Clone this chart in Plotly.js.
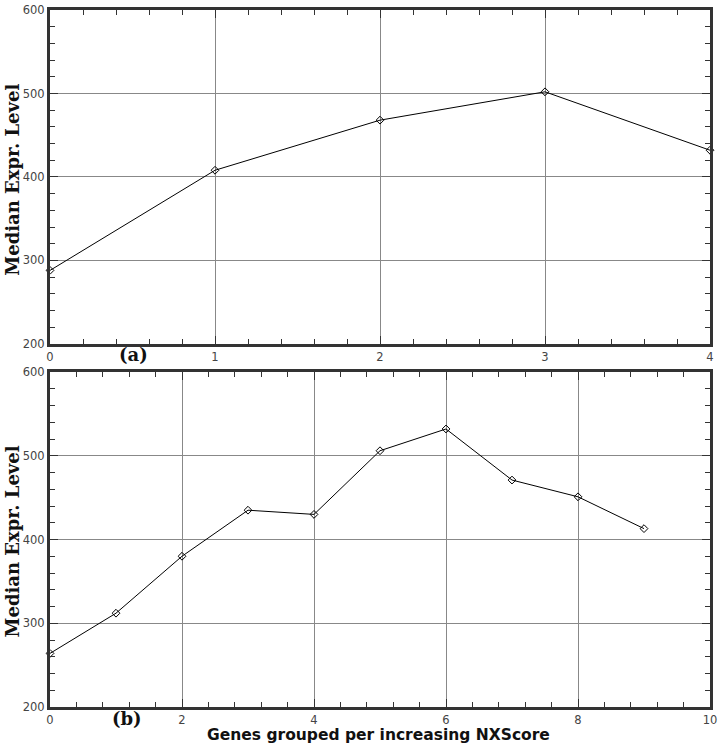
<!DOCTYPE html>
<html>
<head>
<meta charset="utf-8">
<script src="https://cdn.plot.ly/plotly-3.0.1.min.js"></script>
<style>
  html, body { margin: 0; padding: 0; background: #ffffff; }
  #chart { width: 719px; height: 743px; }
</style>
</head>
<body>
<div id="chart"></div>
<script>
// Panel (a): median expression per group
const groupsA = [0, 1, 2, 3, 4];
const medianA = [288, 408, 468, 502, 432];

// Panel (b): median expression per group
const groupsB = [0, 1, 2, 3, 4, 5, 6, 7, 8, 9];
const medianB = [264, 312, 380, 435, 430, 506, 532, 471, 451, 413];

const yTitle = 'Median Expr. Level';
const xTitle = 'Genes grouped per increasing NXScore';
const panelLabels = ['(a)', '(b)'];

const frameColor = '#333333';
const tickFont = { family: 'DejaVu Sans, Verdana, sans-serif', size: 11.5, color: '#444444' };

function makeTrace(x, y, xa, ya) {
    return {
        x: x,
        y: y,
        xaxis: xa,
        yaxis: ya,
        type: 'scatter',
        mode: 'lines+markers',
        line: { color: '#000000', width: 1 },
        marker: { symbol: 'diamond-open', size: 6, color: '#000000', line: { width: 1 } },
        cliponaxis: false,
        showlegend: false
    };
}

function axisBase(range, dtick, minorDtick, domain, anchor) {
    return {
        range: range,
        domain: domain,
        anchor: anchor,
        dtick: dtick,
        tick0: range[0],
        ticks: 'inside',
        ticklen: 8,
        tickwidth: 1,
        tickcolor: frameColor,
        minor: { dtick: minorDtick, ticks: 'inside', ticklen: 5, tickcolor: frameColor, showgrid: false },
        showline: true,
        linecolor: frameColor,
        linewidth: 3,
        mirror: 'ticks',
        showgrid: true,
        gridcolor: '#888888',
        gridwidth: 1,
        zeroline: false,
        tickfont: tickFont,
        fixedrange: true
    };
}

const traces = [
    makeTrace(groupsA, medianA, 'x', 'y'),
    makeTrace(groupsB, medianB, 'x2', 'y2')
];

const serifBold = { family: 'DejaVu Serif, Georgia, serif', size: 18, color: '#111111' };

const layout = {
    width: 719,
    height: 743,
    margin: { l: 50, r: 9, t: 10, b: 36 },
    paper_bgcolor: '#ffffff',
    plot_bgcolor: '#ffffff',
    xaxis: axisBase([0, 4], 1, 0.2, [0, 1], 'y'),
    yaxis: axisBase([200, 600], 100, 20, [0.521, 1], 'x'),
    xaxis2: axisBase([0, 10], 2, 0.4, [0, 1], 'y2'),
    yaxis2: axisBase([200, 600], 100, 20, [0, 0.4806], 'x2'),
    annotations: [
        {
            text: '<b>' + yTitle + '</b>', xref: 'paper', yref: 'paper',
            x: -0.057, y: 0.757, textangle: -90, showarrow: false,
            font: serifBold, xanchor: 'center', yanchor: 'middle'
        },
        {
            text: '<b>' + yTitle + '</b>', xref: 'paper', yref: 'paper',
            x: -0.057, y: 0.238, textangle: -90, showarrow: false,
            font: serifBold, xanchor: 'center', yanchor: 'middle'
        },
        {
            text: '<b>' + panelLabels[0] + '</b>', xref: 'paper', yref: 'paper',
            x: 0.126, y: 0.506, showarrow: false, font: serifBold,
            xanchor: 'center', yanchor: 'middle'
        },
        {
            text: '<b>' + panelLabels[1] + '</b>', xref: 'paper', yref: 'paper',
            x: 0.117, y: -0.016, showarrow: false, font: serifBold,
            xanchor: 'center', yanchor: 'middle'
        },
        {
            text: '<b>' + xTitle + '</b>', xref: 'paper', yref: 'paper',
            x: 0.497, y: -0.040, showarrow: false,
            font: { family: 'DejaVu Sans, Verdana, sans-serif', size: 15.5, color: '#111111' },
            xanchor: 'center', yanchor: 'middle'
        }
    ]
};

Plotly.newPlot('chart', traces, layout, { displayModeBar: false, staticPlot: true });
</script>
</body>
</html>
